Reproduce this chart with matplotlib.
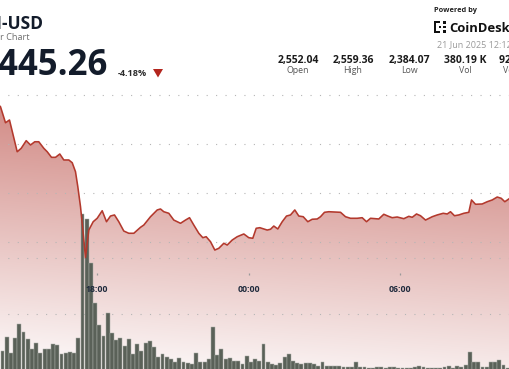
import numpy as np
import matplotlib
matplotlib.use("Agg")
import matplotlib.pyplot as plt
from matplotlib.patches import Polygon, Rectangle

# ---------------- data ----------------
price_t = [-1.0, -0.48, 0.71, 1.66, 3.49, 4.44, 5.63, 6.65, 7.67, 8.62,
           9.81, 10.62, 11.64, 12.59, 13.61, 14.56, 15.75, 16.56, 17.34, 17.89,
           18.53, 19.17, 19.71, 20.50, 21.54, 22.49, 23.68, 24.70, 25.65, 26.60,
           27.62, 28.81, 30.00, 31.19, 32.78, 33.56, 35.15, 36.75, 37.53, 38.31,
           39.50, 40.69, 42.28, 43.47, 44.42, 45.44, 46.63, 47.58, 48.38, 49.41,
           50.43, 51.38, 52.57, 53.37, 54.56, 55.75, 57.32, 58.50, 59.45, 60.26,
           61.12, 62.87, 63.66, 64.44, 65.39, 66.44, 67.46, 68.41, 69.43, 70.38,
           71.43, 72.52, 73.56, 74.75, 75.53, 76.48, 77.51, 80.29, 81.47, 82.66,
           84.25, 85.44, 86.46, 87.41, 89.38, 90.57, 91.52, 92.56, 93.75, 95.32,
           96.51, 97.32, 98.34, 99.29, 100.48, 102.07, 103.25, 104.68, 105.63, 106.41,
           107.36, 108.38, 109.57, 110.76, 111.40, 112.35, 113.94, 115.13, 116.32, 117.51,
           118.46, 119.31, 120.50, 121.0]
price_v = [2540.0, 2538.1, 2521.7, 2524.5, 2492.1, 2495.6, 2503.4, 2499.0, 2502.3, 2502.3,
           2495.6, 2492.1, 2486.4, 2486.4, 2489.8, 2483.7, 2483.7, 2480.9, 2471.7, 2456.4,
           2436.0, 2408.9, 2384.1, 2412.2, 2420.7, 2424.2, 2431.9, 2420.7, 2426.5, 2427.6,
           2420.7, 2411.2, 2408.9, 2408.9, 2415.0, 2417.3, 2425.8, 2432.7, 2433.7, 2430.9,
           2429.3, 2422.4, 2419.1, 2422.4, 2424.8, 2417.3, 2408.9, 2404.4, 2405.4, 2400.3,
           2391.8, 2393.6, 2398.7, 2396.9, 2402.0, 2405.4, 2408.2, 2404.4, 2403.8, 2414.0,
           2414.6, 2412.2, 2413.0, 2416.3, 2413.3, 2420.7, 2426.5, 2427.6, 2432.7, 2426.5,
           2425.8, 2420.7, 2423.2, 2423.5, 2425.8, 2430.3, 2430.9, 2430.3, 2425.8, 2424.2,
           2424.2, 2424.8, 2420.7, 2424.2, 2423.5, 2428.3, 2426.5, 2424.8, 2425.5, 2423.8,
           2426.2, 2425.2, 2428.6, 2426.8, 2422.4, 2425.8, 2427.6, 2429.3, 2428.6, 2430.9,
           2426.8, 2427.6, 2429.3, 2430.3, 2442.9, 2438.5, 2438.8, 2441.1, 2442.9, 2445.9,
           2444.6, 2441.1, 2444.6, 2445.3]

volume = [1697, 2974, 1518, 2884, 4081, 3367, 2742, 1875, 2438, 1545,
          1849, 1875, 2349, 2233, 1429, 1491, 1634, 1491, 2884, 13931,
          13484, 9555, 5983, 4019, 3036, 5090, 3304, 2679, 2884, 2170,
          2742, 1429, 2349, 1697, 2438, 2616, 2027, 1188, 1402, 1188,
          956, 741, 1098, 741, 598, 509, 1491, 688, 688, 956,
          3867, 1340, 1875, 982, 1045, 804, 804, 509, 1250, 741,
          956, 830, 2322, 688, 509, 447, 598, 1188, 1429, 830,
          598, 536, 652, 598, 509, 357, 688, 384, 357, 384,
          357, 295, 295, 295, 741, 295, 241, 152, 152, 241,
          241, 152, 295, 241, 152, 179, 223, 179, 268, 313,
          268, 179, 179, 223, 179, 268, 313, 223, 313, 268,
          402, 1563, 670, 670, 268, 268, 670, 670, 893, 447,
          223]

tick_pos = [22.5, 58.5, 94.5]
tick_labels = ["18:00", "00:00", "06:00"]
price_grid = [2400, 2450, 2500, 2550]
vol_grid = [5000, 10000]

stat_values = ["2,552.04", "2,559.36", "2,384.07", "380.19 K", "927.64 M"]
stat_labels = ["Open", "High", "Low", "Vol", "Vol (USD)"]
stat_x = [298, 353, 409, 465.5, 522]

# ---------------- layout ----------------
W, H = 510, 369
fig = plt.figure(figsize=(W / 100, H / 100), dpi=100)
fig.patch.set_facecolor("white")

XLIM = (-2.5 / 4.21, (W - 2.5) / 4.21)
PLIM = (2400 - (H - 242) / 0.98, 2400 + 242 / 0.98)
VLIM = ((370 - H) * 89.3, 370 * 89.3)

def fx(px):
    return px / W

def fy(py):
    return 1 - py / H

ax_fill = fig.add_axes([0, 0, 1, 1], label="fill")
ax_vol = fig.add_axes([0, 0, 1, 1], label="vol")
ax_line = fig.add_axes([0, 0, 1, 1], label="line")
for a in (ax_fill, ax_vol, ax_line):
    a.set_xlim(*XLIM)
    for s in a.spines.values():
        s.set_visible(False)
    a.tick_params(left=False, bottom=False, labelleft=False, labelbottom=False)
    a.set_xticks([])
ax_vol.patch.set_visible(False)
ax_line.patch.set_visible(False)
ax_fill.set_ylim(*PLIM)
ax_line.set_ylim(*PLIM)
ax_vol.set_ylim(*VLIM)

grid_kw = dict(color="#b5b5b5", linewidth=0.8, linestyle=(1.5, (1, 7.5)))

# gradient fill under the price line
poly = ax_fill.fill_between(price_t, price_v, PLIM[0], facecolor="none", edgecolor="none")
yy, xx = np.mgrid[0:H, 0:W]
yeff = yy + 0.08 * (W - xx)
t = np.clip((yeff - 100) / 300.0, 0, 1)
top = np.array([203, 120, 114]) / 255.0
bot = np.array([252, 248, 248]) / 255.0
img = top[None, None, :] + (bot - top)[None, None, :] * t[..., None]
im = ax_fill.imshow(img, extent=[XLIM[0], XLIM[1], PLIM[0], PLIM[1]],
                    origin="upper", aspect="auto", zorder=1, interpolation="bilinear")
im.set_clip_path(poly.get_paths()[0], transform=ax_fill.transData)
ax_fill.set_xlim(*XLIM)
ax_fill.set_ylim(*PLIM)

# price grid
ax_fill.set_yticks(price_grid)
ax_fill.set_axisbelow(False)
ax_fill.yaxis.grid(True, **grid_kw)
ax_fill.xaxis.grid(False)

# volume grid + bars
ax_vol.set_yticks(vol_grid)
ax_vol.set_axisbelow(True)
ax_vol.yaxis.grid(True, **grid_kw)
ax_vol.bar(np.arange(len(volume)), volume, width=0.92, color="#5a6158",
           edgecolor="#a9ada7", linewidth=0.35, zorder=2)

# price line
ax_line.plot(price_t, price_v, color="#b3392d", linewidth=1.15, solid_joinstyle="round", zorder=3)
ax_line.set_yticks([])

# time ticks and labels
trans = ax_line.get_xaxis_transform()
ax_line.plot(tick_pos, [fy(274)] * len(tick_pos), linestyle="none", marker="|",
             markersize=1.8, color="#9a9a9a", markeredgewidth=0.9, transform=trans)
for p, lab in zip(tick_pos, tick_labels):
    ax_line.text(p, fy(289), lab, transform=trans, ha="center", va="center",
                 fontsize=6.3, fontweight="bold", color="#1f2a3c", family="Open Sans")

# ---------------- header ----------------
dark = "#131c2b"
fig.text(fx(43.5), fy(29.3), "ETH-USD", ha="right", va="baseline", fontsize=12.5,
         fontweight="bold", color=dark, family="Open Sans")
fig.text(fx(29.5), fy(40.5), "Ether Chart", ha="right", va="baseline", fontsize=6.6,
         color="#6f6f6f", family="Open Sans")
fig.text(fx(108.5), fy(75.5), "2,445.26", ha="right", va="baseline", fontsize=25,
         fontweight="bold", color=dark, family="Open Sans")
fig.text(fx(118), fy(76), "-4.18%", ha="left", va="baseline", fontsize=6.6,
         fontweight="bold", color="#2b2b2b", family="Open Sans")
fig.patches.append(Polygon([(fx(153), fy(69)), (fx(163), fy(69)), (fx(158), fy(77.5))],
                           closed=True, transform=fig.transFigure, facecolor="#b3261e",
                           edgecolor="none"))

fig.text(fx(434), fy(11.5), "Powered by", ha="left", va="baseline", fontsize=5.3,
         fontweight="bold", color="#222222", family="Open Sans")
fig.text(fx(449), fy(31.8), "CoinDesk", ha="left", va="baseline", fontsize=9.4,
         fontweight="bold", color="#111111", family="Open Sans")
# logo mark
for (x0, y0, w, h) in [(434, 21, 2.2, 12), (434, 21, 6, 2.2), (434, 30.8, 6, 2.2),
                       (443, 21, 2.6, 2.6), (443, 25.7, 2.6, 2.6), (443, 30.4, 2.6, 2.6),
                       (438.5, 25.7, 2.4, 2.4)]:
    fig.patches.append(Rectangle((fx(x0), fy(y0 + h)), w / W, h / H,
                                 transform=fig.transFigure, facecolor="#111111",
                                 edgecolor="none"))
fig.text(fx(437), fy(47.3), "21 Jun 2025 12:12", ha="left", va="baseline", fontsize=6.5,
         color="#9a9a9a", family="Open Sans")

for x, v, lab in zip(stat_x, stat_values, stat_labels):
    fig.text(fx(x), fy(62.7), v, ha="center", va="baseline", fontsize=7.5,
             fontweight="bold", color="#1b1b1b", family="Open Sans")
    fig.text(fx(x), fy(72.8), lab, ha="center", va="baseline", fontsize=6.3,
             color="#555555", family="Open Sans")

fig.savefig("out.png", dpi=100, facecolor="white")
